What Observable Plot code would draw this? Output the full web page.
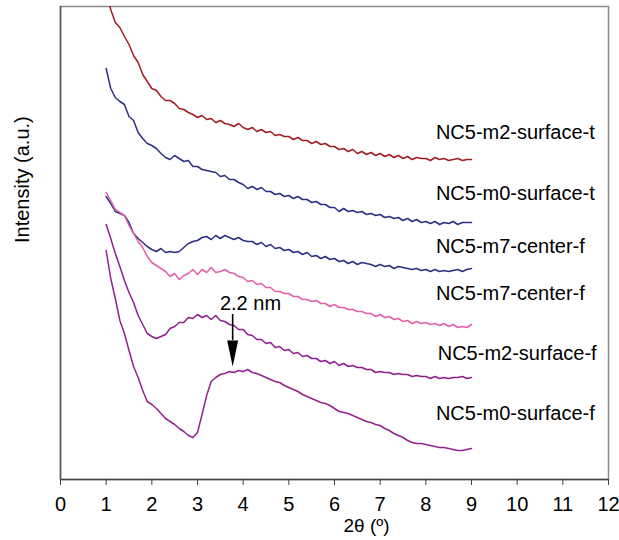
<!DOCTYPE html>
<html><head><meta charset="utf-8">
<script src="https://cdn.jsdelivr.net/npm/d3@7"></script>
<script src="https://cdn.jsdelivr.net/npm/@observablehq/plot@0.6"></script>
<style>body{margin:0;background:#fff;}</style>
</head><body><div id="chart"></div>
<script>
const twoTheta = [
1.0,1.1,1.2,1.3,1.4,1.5,1.6,1.7,1.8,1.9,
2.0,2.1,2.2,2.3,2.4,2.5,2.6,2.7,2.8,2.9,
3.0,3.1,3.2,3.3,3.4,3.5,3.6,3.7,3.8,3.9,
4.0,4.1,4.2,4.3,4.4,4.5,4.6,4.7,4.8,4.9,
5.0,5.1,5.2,5.3,5.4,5.5,5.6,5.7,5.8,5.9,
6.0,6.1,6.2,6.3,6.4,6.5,6.6,6.7,6.8,6.9,
7.0,7.1,7.2,7.3,7.4,7.5,7.6,7.7,7.8,7.9,
8.0,8.1,8.2,8.3,8.4,8.5,8.6,8.7,8.8,8.9,
9.0];
const m2SurfaceT = [
489,470,457,452,443,435,424,417,405,398,
391,389,383,379,379,376,371,370,367,365,
362,364,360,361,357,359,356,355,353,356,
352,350,352,348,350,347,348,344,345,343,
343,340,342,339,339,336,338,335,336,333,
333,330,331,328,330,326,328,325,327,324,
326,323,325,322,324,321,323,320,322,321,
321,319,322,320,321,319,320,321,319,320,
320];
const m0SurfaceT = [
411,391,382,378,375,363,359,347,341,336,
334,331,326,322,320,324,321,318,319,313,
313,310,309,308,307,303,304,300,300,297,
295,291,293,290,292,288,288,285,286,283,
284,281,283,280,280,277,278,275,275,272,
272,268,271,268,269,267,268,265,266,264,
265,262,263,261,262,259,261,258,260,257,
258,256,258,255,257,256,258,255,257,257,
257];
const m7CenterF1 = [
283,276,268,266,264,257,246,241,237,233,
230,228,231,227,228,227,228,232,236,238,
239,242,243,240,244,241,244,242,240,242,
239,238,238,235,237,233,235,231,232,229,
230,227,228,225,227,223,224,221,223,220,
221,218,219,216,218,215,217,216,215,213,
215,213,214,211,213,212,211,210,211,209,
210,208,210,208,209,208,209,210,208,210,
211];
const m7CenterF2 = [
287,279,270,267,264,254,246,238,232,223,
217,214,211,208,203,206,200,204,206,210,
205,210,207,212,207,208,210,207,206,203,
202,198,199,195,196,192,192,188,188,186,
186,183,183,180,180,178,179,176,176,173,
175,172,172,170,170,168,168,166,166,163,
165,162,163,160,161,158,159,156,158,156,
157,155,156,154,156,153,155,152,153,152,
155];
const m2SurfaceF = [
255,241,226,213,199,187,177,164,155,146,
143,141,143,145,151,153,157,157,162,161,
165,162,164,160,164,159,158,155,154,150,
150,145,144,140,140,136,137,132,133,129,
130,126,127,123,124,121,121,118,119,116,
118,114,116,113,114,112,112,110,110,107,
108,107,107,105,106,105,105,103,104,103,
103,101,103,101,102,101,102,102,103,101,
102];
const m0SurfaceF = [
229,201,181,159,146,129,113,102,89,78,
75,71,66,61,58,55,51,48,44,42,
47,65,84,98,102,105,106,108,107,109,
108,110,107,106,104,102,100,98,97,94,
92,90,88,85,83,81,79,77,76,74,
71,68,67,66,64,62,60,58,57,55,
54,51,49,46,44,42,39,37,36,36,
35,34,33,32,32,31,30,29,29,30,
31];
const seriesNames = ["NC5-m2-surface-t","NC5-m0-surface-t","NC5-m7-center-f","NC5-m7-center-f","NC5-m2-surface-f","NC5-m0-surface-f"];
const seriesValues = [m2SurfaceT, m0SurfaceT, m7CenterF1, m7CenterF2, m2SurfaceF, m0SurfaceF];
const seriesColors = ["#a21c22","#2c2e82","#2c2e82","#e35fa9","#8e1e8e","#93238f"];
const labelX = [8.22, 8.22, 8.22, 8.22, 8.26, 8.22];
const labelY = [347, 286, 233, 186, 126, 66];
const xTicks = [0,1,2,3,4,5,6,7,8,9,10,11,12];
const peakLabel = "2.2 nm";
const peakX = 3.77, peakLabelX = 4.16, peakLabelY = 176, arrowTop = 165, arrowHeadBase = 139, arrowTip = 113;

const rows = [];
seriesValues.forEach((vals, i) => vals.forEach((v, j) => rows.push({x: twoTheta[j], y: v, s: i})));
const labels = seriesNames.map((n, i) => ({name: n, x: labelX[i], y: labelY[i]}));

const headSymbol = {draw(ctx, size) { ctx.moveTo(0, 0); ctx.lineTo(-5.5, -26); ctx.lineTo(5.5, -26); ctx.closePath(); }};

const chart = Plot.plot({
  width: 619, height: 540,
  marginLeft: 60, marginRight: 11, marginTop: 6, marginBottom: 61,
  style: {fontFamily: "'Liberation Sans', Arial, sans-serif", fontSize: "20px", color: "#000", background: "#fff"},
  x: {domain: [0, 12]},
  y: {domain: [0, 473], axis: null},
  marks: [
    Plot.frame({stroke: "#8a8a8a", strokeWidth: 1.5}),
    Plot.ruleX([0], {stroke: "#555", strokeWidth: 1.5}),
    Plot.ruleY([0], {stroke: "#444", strokeWidth: 1.5}),
    Plot.axisX({ticks: xTicks, tickSize: 6, tickPadding: 11, fontSize: 20, label: null, stroke: "#444"}),
    Plot.text(["2θ (º)"], {frameAnchor: "bottom", dx: 32, dy: 52, fontSize: 19}),
    Plot.text(["Intensity (a.u.)"], {frameAnchor: "left", rotate: -90, dx: -38, fontSize: 20}),
    Plot.line(rows, {x: "x", y: "y", z: "s", stroke: d => seriesColors[d.s], strokeWidth: 1.5, clip: true}),
    Plot.text(labels, {x: "x", y: "y", text: "name", textAnchor: "start", fontSize: 20}),
    Plot.text([peakLabel], {x: peakLabelX, y: peakLabelY, fontSize: 20}),
    Plot.ruleX([peakX], {y1: arrowTop, y2: arrowHeadBase, stroke: "#000", strokeWidth: 1.6}),
    Plot.dot([peakX], {x: d => d, y: arrowTip, symbol: headSymbol, fill: "#000", stroke: "none", r: 5})
  ]
});
document.getElementById("chart").append(chart);
</script>
</body></html>
